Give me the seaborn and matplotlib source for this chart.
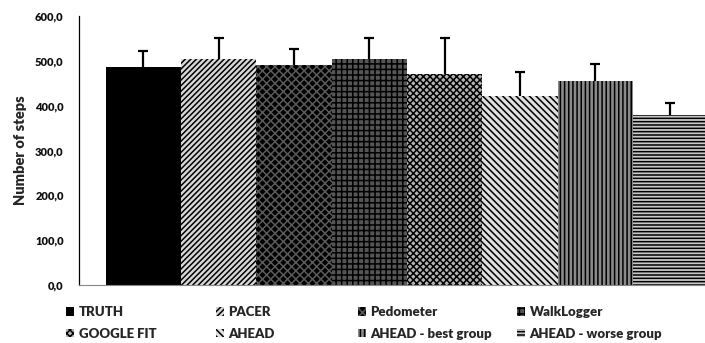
import matplotlib
matplotlib.use("Agg")
import matplotlib.pyplot as plt
import seaborn as sns
import pandas as pd

# Mean step counts per counting method, with standard deviations
devices = ["TRUTH", "PACER", "Pedometer", "WalkLogger",
           "GOOGLE FIT", "AHEAD", "AHEAD - best group", "AHEAD - worse group"]
mean_steps = [486, 503, 491, 503, 470, 422, 455, 380]
sd_steps = [37, 49, 35, 49, 80, 54, 38, 27]
y_ticks = [0, 100, 200, 300, 400, 500, 600]
y_tick_labels = ["0,0", "100,0", "200,0", "300,0", "400,0", "500,0", "600,0"]

# fill style per bar: (face colour, hatch colour, hatch pattern)
fills = [
    ("black", "black", ""),
    ("#d8d8d8", "black", "//////"),
    ("black", "#5a5a5a", "xxxx"),
    ("#555555", "black", "+++"),
    ("#b4b4b4", "black", "xxxxx"),
    ("#e0e0e0", "black", "\\\\\\\\\\"),
    ("#8a8a8a", "black", "||||"),
    ("#c8c8c8", "black", "-----"),
]

sns.set_theme(style="white")
plt.rcParams["font.family"] = ["Lato", "DejaVu Sans"]
plt.rcParams["hatch.linewidth"] = 1.1

df = pd.DataFrame({"device": devices, "steps": mean_steps})

fig = plt.figure(figsize=(7.05, 3.43), dpi=100)
W, H = 705, 343
ax = fig.add_axes([79 / W, 1 - 285 / H, (705 - 79) / W, (285 - 16) / H])

sns.barplot(data=df, x="device", y="steps", hue="device", order=devices,
            hue_order=devices, palette=["white"] * len(devices), width=1.0,
            dodge=False, errorbar=None, legend=False, ax=ax)

for patch, (face, hcol, hatch) in zip(ax.patches, fills):
    patch.set_facecolor(face)
    patch.set_edgecolor(hcol)
    patch.set_hatch(hatch)
    patch.set_linewidth(0)

# upward-only error bars (lower caps hidden)
eb = ax.errorbar(range(len(devices)), mean_steps,
                 yerr=[[0] * len(devices), sd_steps],
                 fmt="none", ecolor="black", elinewidth=1.6, capsize=3.5,
                 capthick=1.6, zorder=5)
caplines = eb.lines[1]
if len(caplines) == 2:
    caplines[0].set_visible(False)

ax.set_xlim(-0.5 - (105.7 - 79) / 75.3, -0.5 + (705 - 105.7) / 75.3)
ax.set_ylim(0, 600)
ax.set_yticks(y_ticks)
ax.set_yticklabels(y_tick_labels, fontsize=8, fontweight="heavy")
ax.tick_params(axis="y", length=0, pad=11, colors="#111111")
ax.set_xticks([])
ax.set_xlabel("")
ax.set_ylabel("Number of steps", fontsize=10.5, fontweight="heavy")
ax.yaxis.set_label_coords((27 - 79) / 626, 0.5)

for side in ["top", "right"]:
    ax.spines[side].set_visible(False)
ax.spines["left"].set_color("black")
ax.spines["left"].set_linewidth(0.9)
ax.spines["bottom"].set_color("#888888")
ax.spines["bottom"].set_linewidth(0.8)

# legend: four columns of two entries, placed individually
col_x = [66, 216, 358, 517]
patches = list(ax.patches)
for i, x in enumerate(col_x):
    handles = [patches[i], patches[i + 4]]
    labels = [devices[i], devices[i + 4]]
    fig.legend(handles, labels, loc="upper left",
               bbox_to_anchor=(x / W, 1 - 306 / H),
               frameon=False, borderpad=0, borderaxespad=0,
               handlelength=0.6, handleheight=0.6, handletextpad=0.35,
               labelspacing=0.75,
               prop={"size": 9.5, "weight": "heavy"})

fig.savefig("out.png", dpi=100)
